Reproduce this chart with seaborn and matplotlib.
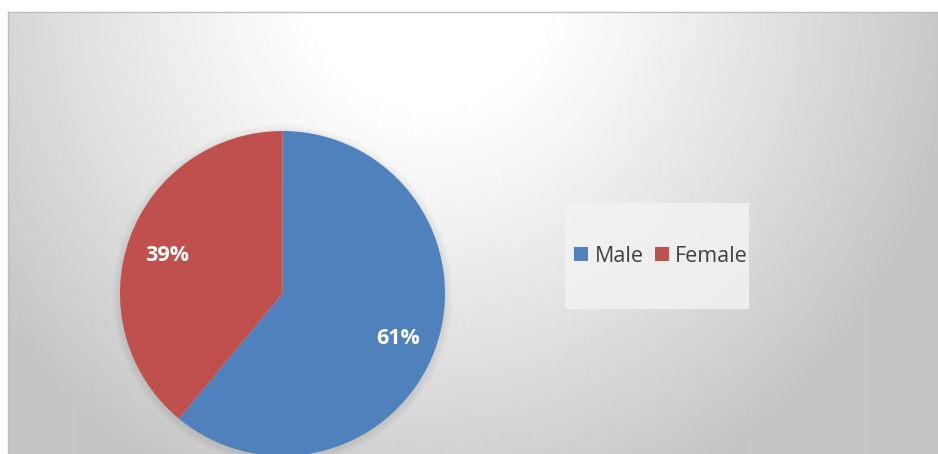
import numpy as np
import seaborn as sns
import matplotlib.pyplot as plt
from matplotlib.patches import Rectangle, Circle

sns.set_style("white")
plt.rcParams['font.family'] = ['Open Sans', 'DejaVu Sans']

labels = ['Male', 'Female']
shares = [61, 39]
colors = ['#4F81BD', '#C0504D']

W, H = 938, 454
fig = plt.figure(figsize=(W / 100, H / 100), dpi=100)

# chart area with a soft radial gradient
bg = fig.add_axes([8 / W, 0, 1 - 8 / W, (H - 12) / H])
yy, xx = np.mgrid[0:442, 0:930]
d = np.sqrt(((xx - 420) / 540.0) ** 2 + ((yy + 40) / 580.0) ** 2)
shade = 1.0 - 0.23 * np.clip((d - 0.22) / 0.78, 0, 1) ** 1.1
bg.imshow(shade, cmap='gray', vmin=0, vmax=1, aspect='auto',
          extent=[0, 930, 442, 0], interpolation='bilinear')
bg.set_xticks([])
bg.set_yticks([])
for side in ['right', 'bottom']:
    bg.spines[side].set_visible(False)
for side in ['top', 'left']:
    bg.spines[side].set_color('#BDBDBD')
    bg.spines[side].set_linewidth(1)

# pie, placed so that radius ~162px, centre ~(282, 293)
cx, cy, r = 282.5, 293.5, 162.5
ax = fig.add_axes([(cx - r) / W, (H - cy - r) / H, 2 * r / W, 2 * r / H])
ax.set_axis_off()
# faint soft shadow around the pie
for k in range(6):
    ax.add_patch(Circle((0.0, -0.01), 1.0 + 0.008 * (k + 1), facecolor='black',
                        edgecolor='none', alpha=0.012, zorder=0, clip_on=False))
wedges, texts, autotexts = ax.pie(
    shares, colors=colors, startangle=90, counterclock=False,
    autopct='%d%%', pctdistance=0.755, radius=1,
    wedgeprops=dict(linewidth=0, zorder=2),
    textprops=dict(color='white', fontsize=15.5, fontweight='bold'))
for t in autotexts:
    t.set_zorder(3)
    x, y = t.get_position()
    t.set_position((x, y - 0.02))
ax.set_xlim(-1, 1)
ax.set_ylim(-1, 1)

# legend box
fig.patches.append(Rectangle((565 / W, (H - 309) / H), 184 / W, 106 / H,
                             transform=fig.transFigure, facecolor='#F2F2F2',
                             edgecolor='none', alpha=0.85, zorder=1))
leg = fig.legend(wedges, labels, ncol=2, loc='center',
                 bbox_to_anchor=(661 / W, (H - 256) / H), frameon=False,
                 fontsize=15.5, handlelength=0.65, handleheight=0.65,
                 handletextpad=0.3, columnspacing=0.5, borderpad=0)
for t in leg.get_texts():
    t.set_color('#404040')

fig.savefig('out.png', dpi=100)
